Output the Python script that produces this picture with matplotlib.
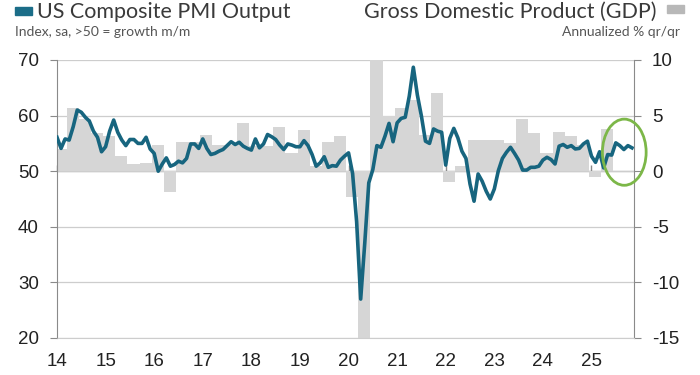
import numpy as np
import matplotlib
matplotlib.use("Agg")
import matplotlib.pyplot as plt
from matplotlib.patches import Rectangle, Ellipse

# ---------------- data ----------------
start_year = 2014
pmi = [
    # 2014
    56.1, 54.1, 55.8, 55.6, 58.0, 61.0, 60.6, 59.7, 59.0, 57.2, 56.1, 53.5,
    # 2015
    54.4, 57.2, 59.2, 57.0, 55.6, 54.6, 55.7, 55.7, 55.0, 55.0, 56.1, 54.0,
    # 2016
    53.2, 50.0, 51.3, 52.4, 50.9, 51.2, 51.8, 51.5, 52.3, 54.9, 54.9, 54.1,
    # 2017
    55.8, 54.1, 53.0, 53.2, 53.6, 53.9, 54.6, 55.3, 54.8, 55.2, 54.5, 54.1,
    # 2018
    53.8, 55.8, 54.2, 54.9, 56.6, 56.2, 55.7, 54.7, 53.9, 54.9, 54.7, 54.4,
    # 2019
    54.4, 55.5, 54.6, 53.0, 50.9, 51.5, 52.6, 50.7, 51.0, 50.9, 52.0, 52.7,
    # 2020
    53.3, 49.6, 40.9, 27.0, 37.0, 47.9, 50.3, 54.6, 54.3, 56.3, 58.6, 55.3,
    # 2021
    58.7, 59.5, 59.7, 63.5, 68.7, 63.7, 59.9, 55.4, 55.0, 57.6, 57.2, 57.0,
    # 2022
    51.1, 55.9, 57.7, 56.0, 53.6, 52.3, 47.7, 44.6, 49.5, 48.2, 46.4, 45.0,
    # 2023
    46.8, 50.1, 52.3, 53.4, 54.3, 53.2, 52.0, 50.2, 50.2, 50.7, 50.7, 50.9,
    # 2024
    52.0, 52.5, 52.1, 51.3, 54.5, 54.8, 54.3, 54.6, 54.0, 54.1, 54.9, 55.4,
    # 2025
    52.7, 51.6, 53.5, 50.6, 53.0, 52.9, 55.1, 54.6, 53.9, 54.6, 54.2,
]

gdp = [
    # 2014 Q1-Q4
    2.0, 5.65, 4.7, 3.4,
    # 2015
    3.2, 1.35, 0.63, 0.75,
    # 2016
    2.4, -1.86, 2.6, 2.6,
    # 2017
    3.3, 2.4, 2.4, 4.3,
    # 2018
    2.3, 2.3, 4.0, 1.65,
    # 2019
    3.7, 0.5, 2.6, 3.15,
    # 2020
    -2.3, -28.0, 35.0, 5.0,
    # 2021
    5.65, 6.4, 3.3, 7.0,
    # 2022
    -1.0, 0.5, 2.85, 2.8,
    # 2023
    2.8, 2.5, 4.7, 3.4,
    # 2024
    1.6, 3.5, 3.2, 2.4,
    # 2025
    -0.5, 3.8,
]

year_ticks = list(range(2014, 2026))
year_labels = [f"{y % 100:02d}" for y in year_ticks]
left_ticks = [20, 30, 40, 50, 60, 70]
right_ticks = [-15, -10, -5, 0, 5, 10]

# ---------------- styling ----------------
TEAL = "#17657f"
BAR = "#d6d6d6"
GRID = "#cdcdcd"
AXIS = "#8a8a8a"
TXT = "#3a3a3a"
TICKFONT = "Liberation Sans"
TITLEFONT = "Lato"
TICKSIZE = 13.5

x_month = start_year + np.arange(len(pmi)) / 12.0
x_quarter = start_year + np.arange(len(gdp)) / 4.0 + 0.075

fig = plt.figure(figsize=(7, 3.75), dpi=100)
ax = fig.add_axes([57 / 700, 1 - 338 / 375, (634 - 57) / 700, (338 - 60) / 375])
ax2 = ax.twinx()

# bars on GDP scale (right axis)
ax.bar(x_quarter, gdp, width=0.25, color=BAR, edgecolor="none", zorder=2)
ax.set_ylim(-15, 10)
ax.yaxis.tick_right()
ax.yaxis.set_label_position("right")
ax.set_yticks(right_ticks)
ax.set_yticklabels([str(v) for v in right_ticks])
ax.set_xlim(2014, 2025.875)
ax.set_xticks(year_ticks)
ax.set_xticklabels(year_labels)
ax.set_axisbelow(True)
ax.grid(axis="y", color=GRID, lw=0.9)
ax.grid(axis="x", visible=False)
ax.spines["top"].set_visible(False)
ax.spines["bottom"].set_color(GRID)
ax.spines["left"].set_color(AXIS)
ax.spines["right"].set_color(AXIS)
ax.tick_params(axis="y", right=True, left=False, labelright=True, labelleft=False,
               direction="out", length=5, color=AXIS, labelsize=TICKSIZE, pad=8,
               labelcolor="#222222")
ax.tick_params(axis="x", length=0, labelsize=TICKSIZE, pad=11, labelcolor="#222222")
for lab in ax.get_xticklabels() + ax.get_yticklabels():
    lab.set_fontfamily(TICKFONT)

# zero line with year ticks
sec = ax.secondary_xaxis(0.6)
sec.set_xticks(year_ticks)
sec.set_xticklabels([""] * len(year_ticks))
sec.tick_params(axis="x", direction="out", length=4, color=AXIS, width=1)
sec.spines["bottom"].set_color(AXIS)

# PMI line on left axis
ax2.set_ylim(20, 70)
ax2.yaxis.tick_left()
ax2.yaxis.set_label_position("left")
ax2.set_yticks(left_ticks)
ax2.set_yticklabels([str(v) for v in left_ticks])
for s in ["top", "right", "bottom", "left"]:
    ax2.spines[s].set_visible(False)
ax2.tick_params(axis="y", left=True, right=False, labelleft=True, labelright=False,
                direction="out", length=5, color=AXIS, labelsize=TICKSIZE, pad=8,
                labelcolor="#222222")
for lab in ax2.get_yticklabels():
    lab.set_fontfamily(TICKFONT)
ax2.plot(x_month, pmi, color=TEAL, lw=2.6, solid_joinstyle="round", zorder=3)

# highlight ellipse around the latest readings
recent_x = x_month[-6:]
recent_y = np.array(pmi[-6:])
ell = Ellipse((recent_x.mean() + 0.05, recent_y.mean() - 0.8), width=0.9, height=11.9,
              fill=False, edgecolor="#7cb748", lw=2.0, zorder=4, clip_on=False)
ax2.add_patch(ell)

# ---------------- titles ----------------
fig.patches.append(Rectangle((15 / 700, 1 - 15 / 375), 16.5 / 700, 7.7 / 375,
                             transform=fig.transFigure, color="#1b6d88"))
fig.text(37 / 700, 1 - 17.5 / 375, "US Composite PMI Output", fontsize=15.5,
         family=TITLEFONT, color=TXT, ha="left", va="baseline")
fig.text(15 / 700, 1 - 36 / 375, "Index, sa, >50 = growth m/m", fontsize=10,
         family=TITLEFONT, color="#555555", ha="left", va="baseline")

fig.patches.append(Rectangle((667 / 700, 1 - 12.5 / 375), 16.5 / 700, 7 / 375,
                             transform=fig.transFigure, color="#b8b8b8"))
fig.text(656 / 700, 1 - 17.5 / 375, "Gross Domestic Product (GDP)", fontsize=15.5,
         family=TITLEFONT, color=TXT, ha="right", va="baseline")
fig.text(680 / 700, 1 - 36 / 375, "Annualized % qr/qr", fontsize=10,
         family=TITLEFONT, color="#555555", ha="right", va="baseline")

fig.savefig("out.png", dpi=100)
